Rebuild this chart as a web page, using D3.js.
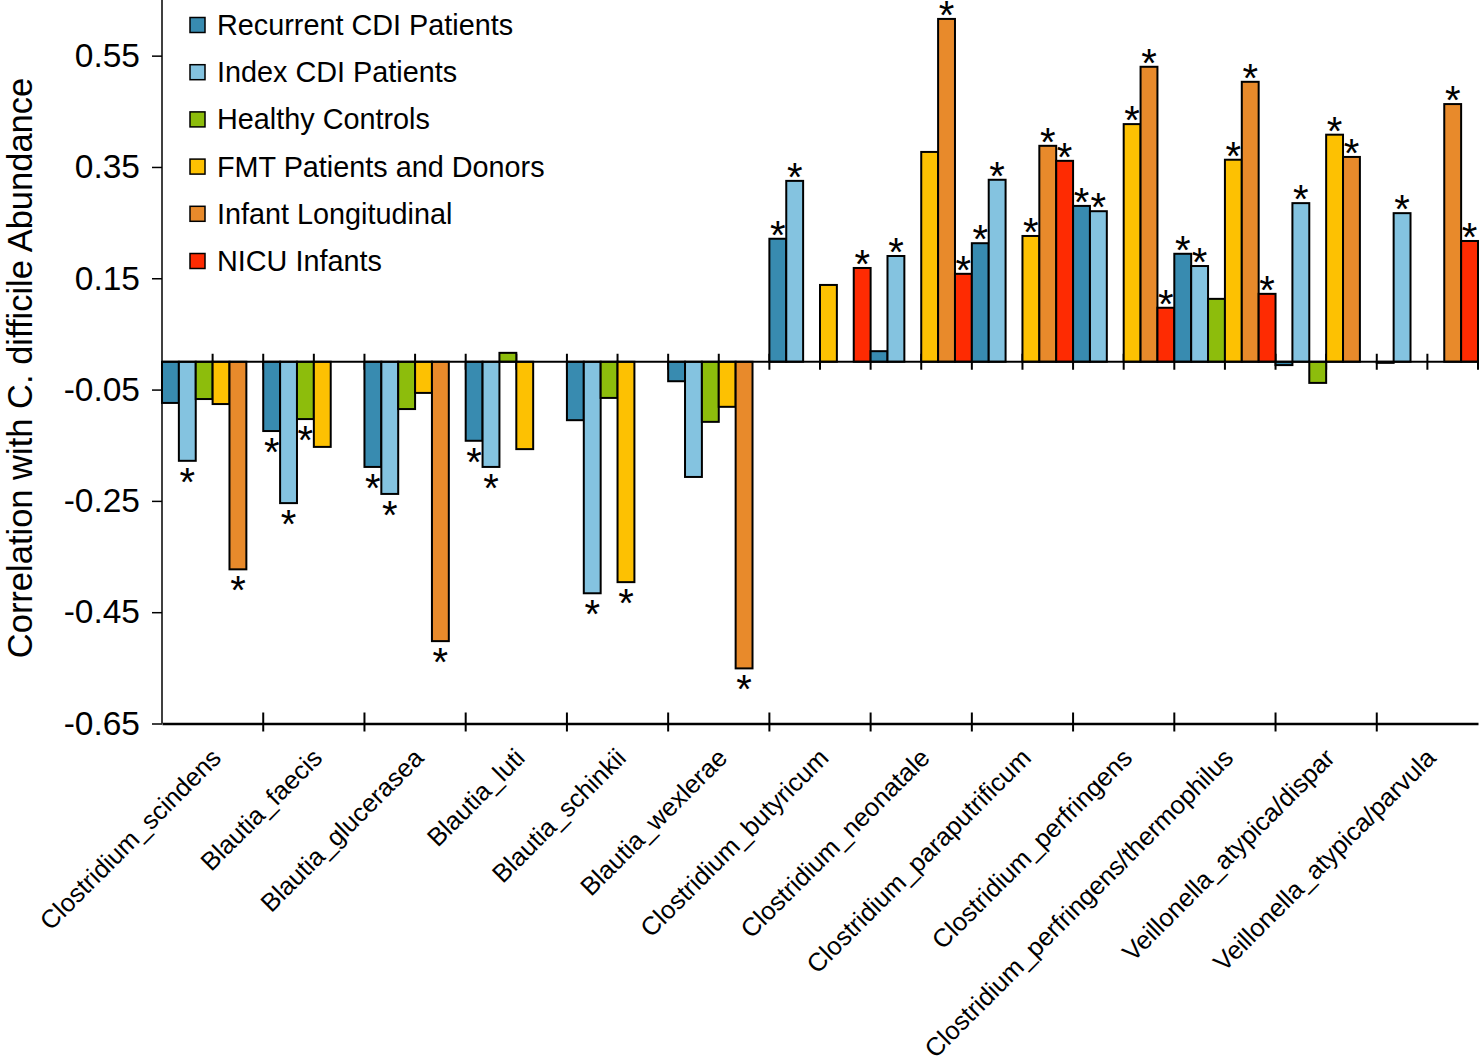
<!DOCTYPE html>
<html>
<head>
<meta charset="utf-8">
<script src="https://cdn.jsdelivr.net/npm/d3@7"></script>
<style>
  body { margin: 0; background: #fff; }
  svg { display: block; }
  text { font-family: "Liberation Sans", Arial, sans-serif; fill: #000; }
</style>
</head>
<body>
<svg id="chart" width="1481" height="1062"></svg>
<script>
const categories = ["Clostridium_scindens","Blautia_faecis","Blautia_glucerasea","Blautia_luti","Blautia_schinkii","Blautia_wexlerae","Clostridium_butyricum","Clostridium_neonatale","Clostridium_paraputrificum","Clostridium_perfringens","Clostridium_perfringens/thermophilus","Veillonella_atypica/dispar","Veillonella_atypica/parvula"];
const seriesNames = ["Recurrent CDI Patients","Index CDI Patients","Healthy Controls","FMT Patients and Donors","Infant Longitudinal","NICU Infants"];
const seriesColors = ["#388bb0","#84c3e0","#8dbd0c","#fdc102","#e88a2b","#fe2b02"];

const recurrent = [-0.074,-0.1245,-0.189,-0.142,-0.105,-0.035,0.221,0.019,0.213,0.280,0.194,-0.006,-0.002];
const indexCDI  = [-0.178,-0.254,-0.2375,-0.189,-0.416,-0.207,0.325,0.190,0.327,0.2705,0.172,0.285,0.267];
const healthy   = [-0.067,-0.103,-0.085,0.016,-0.065,-0.108,null,null,null,null,0.113,-0.038,null];
const fmt       = [-0.076,-0.153,-0.056,-0.157,-0.396,-0.081,0.138,0.377,0.226,0.427,0.363,0.408,null];
const infant    = [-0.373,null,-0.502,null,null,-0.551,null,0.616,0.388,0.530,0.503,0.368,0.463];
const nicu      = [null,null,null,null,null,null,0.1685,0.158,0.361,0.097,0.122,null,0.217];

const sigRecurrent = [0,1,1,1,0,0,1,0,1,1,1,0,0];
const sigIndex     = [1,1,1,1,1,0,1,1,1,1,1,1,1];
const sigHealthy   = [0,1,0,0,0,0,0,0,0,0,0,0,0];
const sigFmt       = [0,0,0,0,1,0,0,0,1,1,1,1,0];
const sigInfant    = [1,0,1,0,0,1,0,1,1,1,1,1,1];
const sigNicu      = [0,0,0,0,0,0,1,1,1,1,1,0,1];

const yTicks = [0.55,0.35,0.15,-0.05,-0.25,-0.45,-0.65];
const yTickLabels = ["0.55","0.35","0.15","-0.05","-0.25","-0.45","-0.65"];

const seriesValues = [recurrent, indexCDI, healthy, fmt, infant, nicu];
const seriesSig = [sigRecurrent, sigIndex, sigHealthy, sigFmt, sigInfant, sigNicu];

const svg = d3.select("#chart");
const plotLeft = 162, plotRight = 1478, plotTop = 0, plotBottom = 723.5;

const x = d3.scaleBand().domain(categories).range([plotLeft, plotRight]).paddingInner(0).paddingOuter(0);
const xs = d3.scaleBand().domain(seriesNames).range([0, x.bandwidth()]).padding(0);
const y = d3.scaleLinear().domain([-0.65, 0.65]).range([plotBottom, plotTop]);

// bars data
const bars = [];
categories.forEach((c, i) => {
  seriesNames.forEach((s, j) => {
    const v = seriesValues[j][i];
    if (v !== null) bars.push({c, s, v, sig: seriesSig[j][i], color: seriesColors[j]});
  });
});

// y axis
const yAxis = d3.axisLeft(y).tickValues(yTicks).tickSize(10).tickPadding(12)
  .tickFormat((d, i) => yTickLabels[i]);
const gy = svg.append("g").attr("transform", `translate(${plotLeft},0)`).call(yAxis);
gy.select(".domain").remove();
gy.selectAll(".tick line").attr("stroke", "#000").attr("stroke-width", 1.5);
gy.selectAll(".tick text").style("font-size", "33.5px").style("font-family", '"Liberation Sans", Arial, sans-serif');
svg.append("line").attr("x1", plotLeft).attr("x2", plotLeft).attr("y1", plotTop).attr("y2", plotBottom)
  .attr("stroke", "#000").attr("stroke-width", 1.5);

// bottom axis
const xAxis = d3.axisBottom(x).tickValues([]).tickSizeOuter(0);
const gx = svg.append("g").attr("transform", `translate(0,${plotBottom})`).call(xAxis);
gx.select(".domain").attr("stroke-width", 2.5);
const boundaries = categories.slice(1).map(c => x(c));
svg.append("g").selectAll("line").data(boundaries).join("line")
  .attr("x1", d => d).attr("x2", d => d).attr("y1", plotBottom - 11).attr("y2", plotBottom + 8)
  .attr("stroke", "#000").attr("stroke-width", 2);

// x labels
svg.append("g").selectAll("text").data(categories).join("text")
  .attr("transform", d => `translate(${x(d) + x.bandwidth()/2 + 10},${plotBottom + 36}) rotate(-45)`)
  .attr("text-anchor", "end")
  .style("font-size", "25.6px")
  .text(d => d);

// zero line ticks (every half category)
const halfTicks = [];
categories.forEach(c => { halfTicks.push(x(c)); halfTicks.push(x(c) + x.bandwidth()/2); });
halfTicks.push(plotRight);
svg.append("g").selectAll("line").data(halfTicks.slice(1)).join("line")
  .attr("x1", d => d).attr("x2", d => d).attr("y1", y(0) - 8).attr("y2", y(0) + 8)
  .attr("stroke", "#000").attr("stroke-width", 2);

// bars
svg.append("g").selectAll("rect").data(bars).join("rect")
  .attr("x", d => x(d.c) + xs(d.s))
  .attr("width", xs.bandwidth())
  .attr("y", d => Math.min(y(d.v), y(0)))
  .attr("height", d => Math.abs(y(d.v) - y(0)))
  .attr("fill", d => d.color)
  .attr("stroke", "#000").attr("stroke-width", 2);

// zero line
svg.append("line").attr("x1", plotLeft).attr("x2", plotRight).attr("y1", y(0)).attr("y2", y(0))
  .attr("stroke", "#000").attr("stroke-width", 2);

// stars
svg.append("g").selectAll("text").data(bars.filter(d => d.sig)).join("text")
  .attr("x", d => x(d.c) + xs(d.s) + xs.bandwidth()/2)
  .attr("y", d => d.v >= 0 ? y(d.v) - 10 + 20 : y(d.v) + 15 + 20)
  .attr("text-anchor", "middle")
  .style("font-size", "40px")
  .text("*");

// legend
const legend = svg.append("g");
seriesNames.forEach((s, j) => {
  const cy = 25 + j * 47.2;
  legend.append("rect").attr("x", 190).attr("y", cy - 7.5).attr("width", 15).attr("height", 15)
    .attr("fill", seriesColors[j]).attr("stroke", "#000").attr("stroke-width", 1.5);
  legend.append("text").attr("x", 217).attr("y", cy + 10).style("font-size", "28.8px").text(s);
});

// y title
svg.append("text")
  .attr("transform", `translate(32,368) rotate(-90)`)
  .attr("text-anchor", "middle")
  .style("font-size", "34.5px")
  .text("Correlation with C. difficile Abundance");
</script>
</body>
</html>
